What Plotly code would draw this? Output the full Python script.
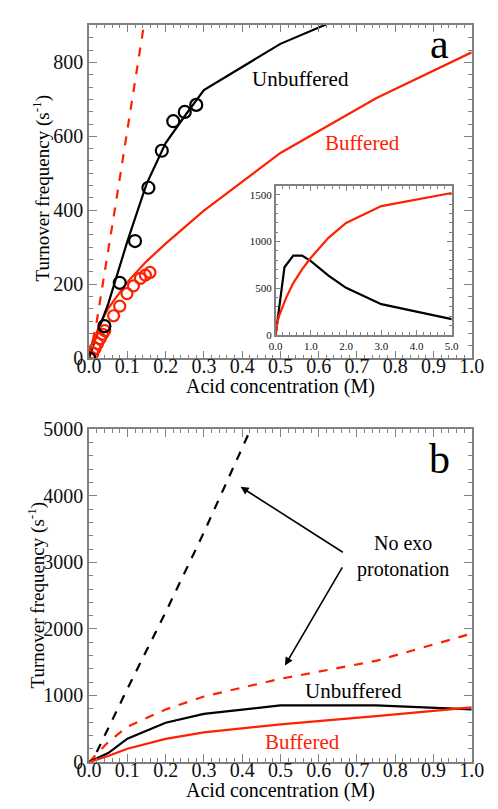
import plotly.graph_objects as go

# ---------------- Data ----------------
# Panel a: experimental points
a_unbuf_pts_x = [0.0, 0.04, 0.08, 0.12, 0.155, 0.19, 0.22, 0.25, 0.28]
a_unbuf_pts_y = [0, 87, 204, 317, 461, 561, 641, 666, 685]
a_buf_pts_x = [0.005, 0.01, 0.016, 0.022, 0.029, 0.035, 0.041, 0.064, 0.08, 0.099, 0.116, 0.134, 0.147, 0.159]
a_buf_pts_y = [3, 14, 27, 40, 53, 65, 75, 115, 141, 175, 196, 216, 225, 232]
# Panel a: model curves
a_unbuf_x = [0.0, 0.02, 0.05, 0.1, 0.15, 0.2, 0.25, 0.3, 0.5, 0.75]
a_unbuf_y = [0, 65, 147, 316, 471, 582, 655, 725, 850, 960]
a_buf_x = [0.0, 0.025, 0.05, 0.1, 0.15, 0.2, 0.3, 0.5, 0.75, 1.0]
a_buf_y = [0, 85, 135, 206, 262, 310, 399, 555, 703, 827]
a_noexo_x = [0.0, 0.02, 0.07, 0.15]
a_noexo_y = [0, 100, 420, 945]
# Inset (0-5 M)
in_unbuf_x = [0.0, 0.25, 0.5, 0.75, 1.0, 1.5, 2.0, 3.0, 5.0]
in_unbuf_y = [0, 725, 850, 850, 790, 635, 505, 330, 170]
in_buf_x = [0.0, 0.05, 0.1, 0.2, 0.3, 0.5, 0.75, 1.0, 1.5, 2.0, 3.0, 5.0]
in_buf_y = [0, 135, 206, 310, 400, 555, 703, 827, 1040, 1200, 1380, 1520]
# Panel b
b_unbuf_x = [0.0, 0.05, 0.1, 0.2, 0.3, 0.5, 0.75, 1.0]
b_unbuf_y = [0, 135, 350, 590, 723, 850, 850, 790]
b_buf_x = [0.0, 0.05, 0.1, 0.2, 0.3, 0.5, 0.75, 1.0]
b_buf_y = [0, 90, 200, 347, 445, 565, 690, 820]
b_unbuf_noexo_x = [0.02, 0.1, 0.2, 0.3, 0.43]
b_unbuf_noexo_y = [150, 1100, 2250, 3450, 5100]
b_buf_noexo_x = [0.0, 0.05, 0.1, 0.2, 0.3, 0.5, 0.75, 1.0]
b_buf_noexo_y = [0, 300, 530, 790, 985, 1250, 1520, 1930]

# ---------------- Figure ----------------
RED = "#ff2000"
BLK = "#000000"
FONT = "Liberation Serif"
AX = "#808080"

fig = go.Figure()

def line(x, y, color, xa, ya, dash="solid"):
    fig.add_trace(go.Scatter(x=x, y=y, mode="lines", xaxis=xa, yaxis=ya,
                             line=dict(color=color, width=2.2, dash=dash),
                             showlegend=False, hoverinfo="skip"))

def pts(x, y, color, xa, ya, size):
    fig.add_trace(go.Scatter(x=x, y=y, mode="markers", xaxis=xa, yaxis=ya,
                             marker=dict(symbol="circle-open", color=color, size=size,
                                         line=dict(width=2.2, color=color)),
                             showlegend=False, hoverinfo="skip"))

# panel a
line(a_noexo_x, a_noexo_y, RED, "x", "y", dash="dash")
line(a_buf_x, a_buf_y, RED, "x", "y")
line(a_unbuf_x, a_unbuf_y, BLK, "x", "y")
pts(a_buf_pts_x, a_buf_pts_y, RED, "x", "y", 11)
pts(a_unbuf_pts_x, a_unbuf_pts_y, BLK, "x", "y", 12)
# inset
line(in_unbuf_x, in_unbuf_y, BLK, "x3", "y3")
line(in_buf_x, in_buf_y, RED, "x3", "y3")
# panel b
line(b_unbuf_noexo_x, b_unbuf_noexo_y, BLK, "x2", "y2", dash="dash")
line(b_buf_noexo_x, b_buf_noexo_y, RED, "x2", "y2", dash="dash")
line(b_unbuf_x, b_unbuf_y, BLK, "x2", "y2")
line(b_buf_x, b_buf_y, RED, "x2", "y2")

W, H = 498, 809
def px_x(p):
    return p / W
def px_y(p):
    return 1 - p / H

def axis(dom, rng, dtick, minor, fmt, fs, anchor, ticklen=8, mlen=4, standoff=0):
    return dict(domain=dom, range=rng, dtick=dtick, tick0=0, tickformat=fmt,
                ticks="inside", ticklen=ticklen, tickwidth=1.2, tickcolor=AX,
                minor=dict(dtick=minor, tick0=0, ticks="inside", ticklen=mlen, tickwidth=1.2, tickcolor=AX),
                showline=True, linecolor=AX, linewidth=1.5, mirror="allticks",
                showgrid=False, zeroline=False, anchor=anchor,
                ticklabelstandoff=standoff,
                tickfont=dict(family=FONT, size=fs, color="#111"))

fig.update_layout(
    width=W, height=H, margin=dict(l=0, r=0, t=0, b=0),
    font=dict(family=FONT),
    plot_bgcolor="white", paper_bgcolor="white",
    xaxis=axis([px_x(81), px_x(483)], [0, 1.0], 0.1, 0.02, ".1f", 20, "y", standoff=-11),
    yaxis=axis([px_y(357), px_y(14)], [0, 902], 200, 200 / 6, "d", 20, "x"),
    xaxis2=axis([px_x(81), px_x(483)], [0, 1.0], 0.1, 0.02, ".1f", 20, "y2", standoff=-11),
    yaxis2=axis([px_y(772), px_y(430)], [0, 5000], 1000, 200, "d", 20, "x2"),
    xaxis3=axis([px_x(277), px_x(462)], [0, 5.0], 1.0, 0.2, ".1f", 11, "y3", 5, 3),
    yaxis3=axis([px_y(333), px_y(180)], [0, 1594], 500, 100, "d", 11, "x3", 5, 3),
)

ann = []
def text(x, y, t, color, size, xref="x", yref="y", **kw):
    ann.append(dict(x=x, y=y, xref=xref, yref=yref, text=t, showarrow=False,
                    xanchor="center", yanchor="middle",
                    font=dict(family=FONT, size=size, color=color), **kw))

text(0.916, 850, "a", BLK, 42)
text(0.553, 755, "Unbuffered", BLK, 21)
text(0.715, 582, "Buffered", RED, 21)
text(0.916, 4560, "b", BLK, 42, "x2", "y2")
text(0.69, 1060, "Unbuffered", BLK, 21, "x2", "y2")
text(0.557, 300, "Buffered", RED, 21, "x2", "y2")
text(0.82, 3090, "No exo<br>protonation", BLK, 20, "x2", "y2")
# axis titles
text(px_x(282), px_y(386), "Acid concentration (M)", BLK, 20, "paper", "paper")
text(px_x(282), px_y(801), "Acid concentration (M)", BLK, 20, "paper", "paper")
text(px_x(31), px_y(182), "Turnover frequency (s<sup>-1</sup>)", BLK, 19, "paper", "paper", textangle=-90)
text(px_x(26), px_y(600), "Turnover frequency (s<sup>-1</sup>)", BLK, 19, "paper", "paper", textangle=-90)

# arrows
ann.append(dict(x=0.396, y=4135, ax=0.667, ay=3138, xref="x2", yref="y2", axref="x2", ayref="y2",
                showarrow=True, arrowhead=2, arrowsize=1, arrowwidth=1.6, arrowcolor=BLK, text=""))
ann.append(dict(x=0.512, y=1452, ax=0.664, ay=2947, xref="x2", yref="y2", axref="x2", ayref="y2",
                showarrow=True, arrowhead=2, arrowsize=1, arrowwidth=1.6, arrowcolor=BLK, text=""))

fig.update_layout(annotations=ann)
fig.write_html("out.html")
